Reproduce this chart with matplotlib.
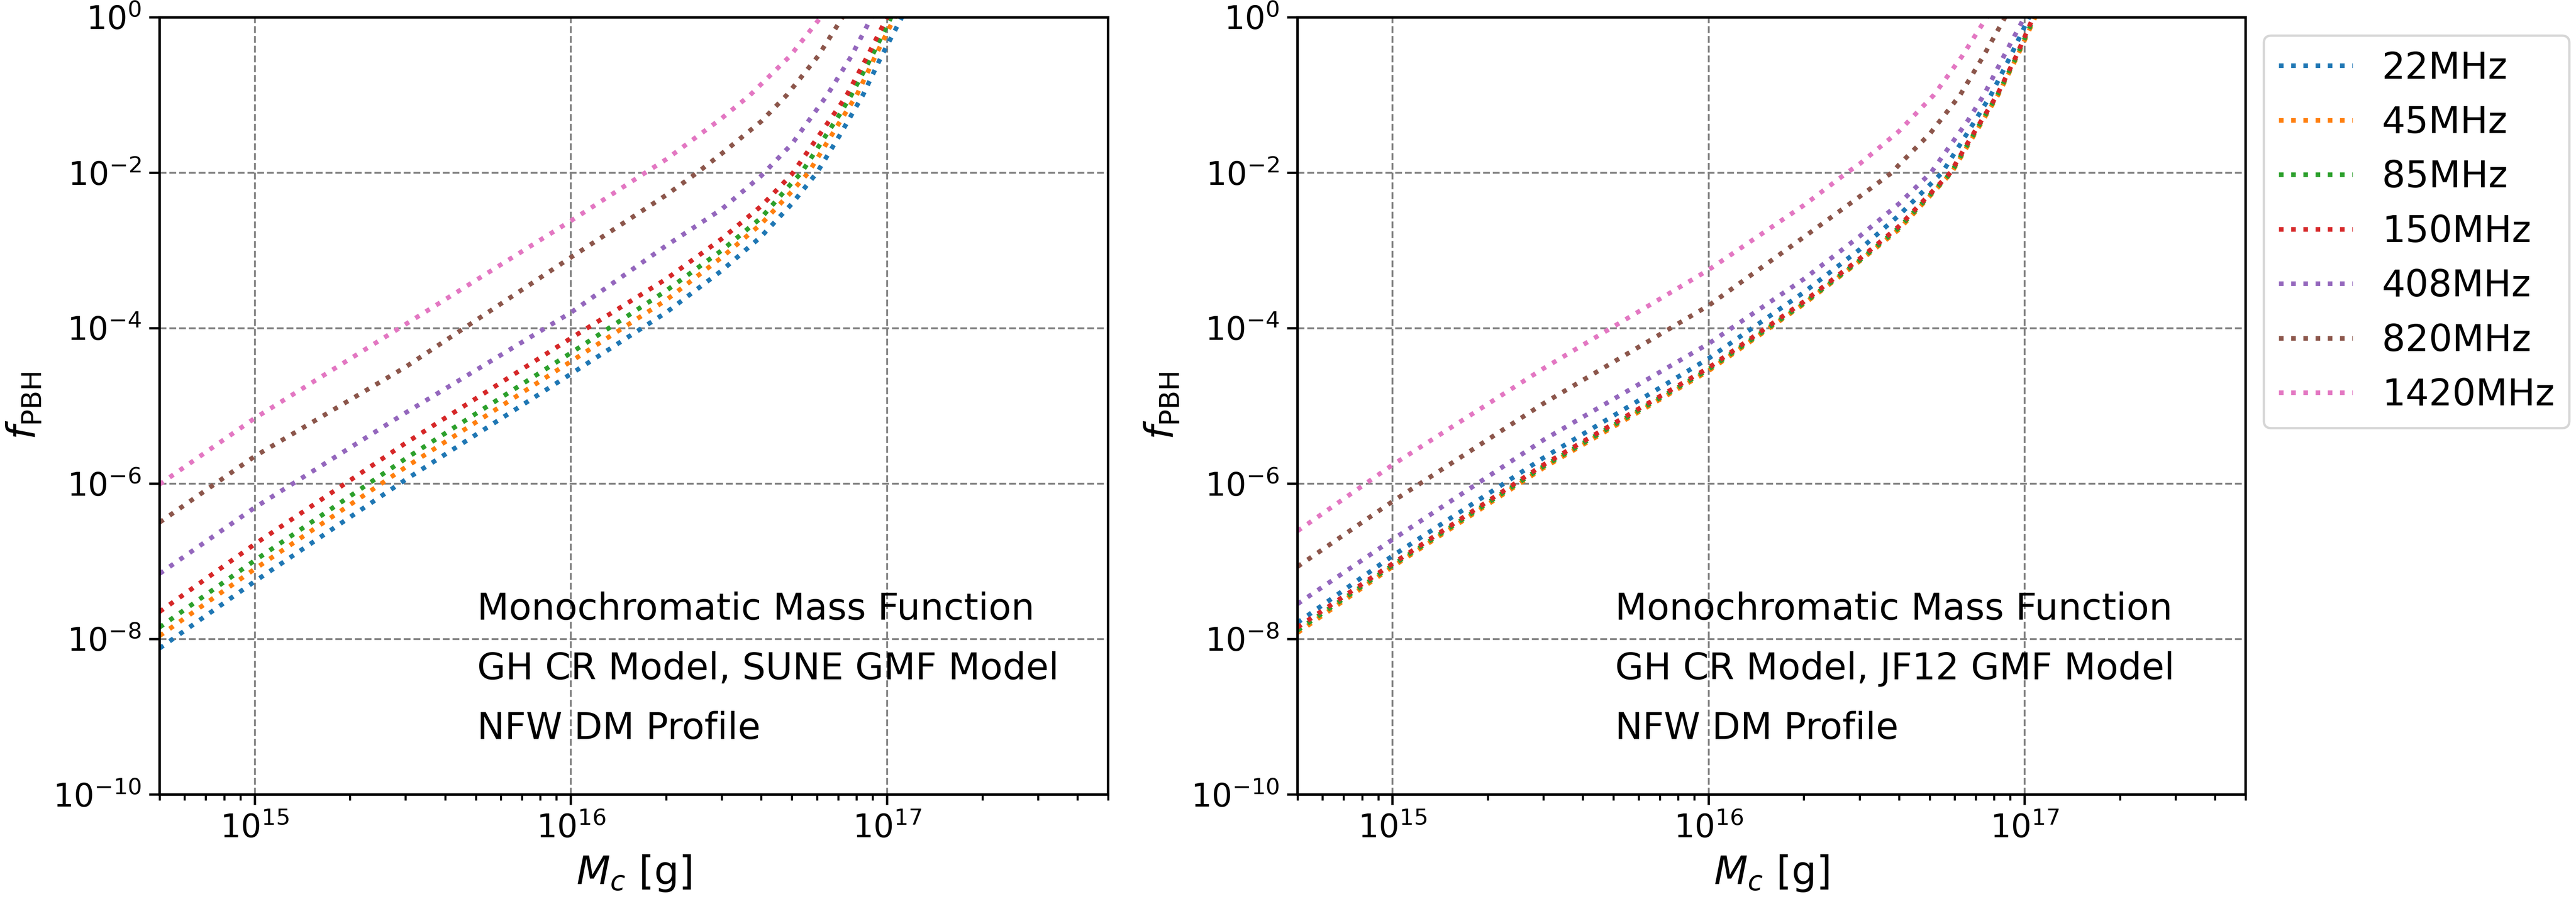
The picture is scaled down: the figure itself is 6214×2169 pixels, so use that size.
import matplotlib
matplotlib.use("Agg")
import matplotlib.pyplot as plt
from matplotlib.ticker import LogLocator, NullLocator, LogFormatterSciNotation

labels = ["22MHz", "45MHz", "85MHz", "150MHz", "408MHz", "820MHz", "1420MHz"]
colors = ["tab:blue", "tab:orange", "tab:green", "tab:red", "tab:purple", "tab:brown", "tab:pink"]

# ---------------- Left panel: GH CR model, SUNE GMF model ----------------
L22_M = [5e14, 1e15, 3e15, 1e16, 2e16, 3e16, 4e16, 5e16, 6.0e16, 7.08e16, 8.39e16, 9.6e16, 1.114e17]
L22_f = [7.59e-9, 5.50e-8, 1.12e-6, 2.57e-5, 1.585e-4, 5.50e-4, 1.51e-3, 3.98e-3, 1.0e-2, 3.02e-2, 0.1, 0.316, 1.0]

L45_M = [5e14, 1e15, 3e15, 1e16, 2e16, 3e16, 4e16, 5e16, 5.64e16, 7.08e16, 8.02e16, 9.18e16, 1.057e17]
L45_f = [1.096e-8, 7.94e-8, 1.62e-6, 3.72e-5, 2.29e-4, 8.13e-4, 2.19e-3, 5.75e-3, 1.0e-2, 4.47e-2, 0.1, 0.316, 1.0]

L85_M = [5e14, 1e15, 3e15, 1e16, 2e16, 3e16, 4e16, 5e16, 5.36e16, 7.08e16, 7.71e16, 8.95e16, 1.03e17]
L85_f = [1.413e-8, 1.023e-7, 2.09e-6, 4.79e-5, 3.02e-4, 1.0e-3, 2.63e-3, 7.41e-3, 1.0e-2, 5.62e-2, 0.1, 0.316, 1.0]

L150_M = [5e14, 1e15, 3e15, 1e16, 2e16, 3e16, 4e16, 5e16, 7.08e16, 7.46e16, 8.67e16, 1.0e17]
L150_f = [2.24e-8, 1.66e-7, 3.31e-6, 7.41e-5, 4.27e-4, 1.41e-3, 3.72e-3, 9.55e-3, 7.24e-2, 0.1, 0.316, 1.0]

L408_M = [5e14, 1e15, 3e15, 1e16, 2e16, 3e16, 4e16, 5e16, 6.47e16, 7.71e16, 8.93e16]
L408_f = [6.92e-8, 4.90e-7, 8.13e-6, 1.585e-4, 1.148e-3, 3.39e-3, 9.12e-3, 2.34e-2, 0.1, 0.316, 1.0]

L820_M = [5e14, 1e15, 3e15, 1e16, 2e16, 2.51e16, 3e16, 4e16, 4.82e16, 6.05e16, 7.23e16]
L820_f = [3.16e-7, 2.24e-6, 3.16e-5, 8.13e-4, 5.13e-3, 1.0e-2, 1.76e-2, 4.57e-2, 0.1, 0.316, 1.0]

L1420_M = [5e14, 1e15, 3e15, 1e16, 1.72e16, 2e16, 3e16, 3.69e16, 4.93e16, 6.17e16]
L1420_f = [9.77e-7, 6.92e-6, 1.12e-4, 2.40e-3, 1.0e-2, 1.48e-2, 5.01e-2, 0.1, 0.316, 1.0]

# ---------------- Right panel: GH CR model, JF12 GMF model ----------------
R22_M = [5e14, 1e15, 3e15, 1e16, 2e16, 3e16, 4e16, 5.48e16, 6.61e16, 7.82e16, 9.02e16, 1.033e17]
R22_f = [1.62e-8, 1.175e-7, 2.14e-6, 4.07e-5, 2.88e-4, 1.02e-3, 2.82e-3, 1.0e-2, 3.31e-2, 0.1, 0.316, 1.0]

R45_M = [5e14, 1e15, 3e15, 1e16, 2e16, 3e16, 4e16, 5.87e16, 6.61e16, 8.24e16, 9.48e16, 1.079e17]
R45_f = [1.20e-8, 8.51e-8, 1.585e-6, 2.82e-5, 2.04e-4, 7.24e-4, 1.86e-3, 1.0e-2, 2.24e-2, 0.1, 0.316, 1.0]

R85_M = [5e14, 1e15, 3e15, 1e16, 2e16, 3e16, 4e16, 5.85e16, 6.61e16, 8.20e16, 9.44e16, 1.072e17]
R85_f = [1.29e-8, 8.91e-8, 1.66e-6, 2.95e-5, 2.09e-4, 7.41e-4, 1.95e-3, 1.0e-2, 2.34e-2, 0.1, 0.316, 1.0]

R150_M = [5e14, 1e15, 3e15, 1e16, 2e16, 3e16, 4e16, 5.82e16, 6.61e16, 8.18e16, 9.40e16, 1.064e17]
R150_f = [1.41e-8, 9.33e-8, 1.74e-6, 3.09e-5, 2.19e-4, 7.76e-4, 2.04e-3, 1.0e-2, 2.43e-2, 0.1, 0.316, 1.0]

R408_M = [5e14, 1e15, 3e15, 1e16, 2e16, 3e16, 4e16, 5.05e16, 6.61e16, 7.43e16, 8.59e16, 9.98e16]
R408_f = [2.82e-8, 1.905e-7, 3.63e-6, 6.31e-5, 4.27e-4, 1.51e-3, 3.98e-3, 1.0e-2, 4.68e-2, 0.1, 0.316, 1.0]

R820_M = [5e14, 1e15, 3e15, 1e16, 2e16, 3e16, 3.80e16, 4e16, 5.01e16, 6.25e16, 7.40e16, 8.67e16]
R820_f = [8.51e-8, 5.89e-7, 1.07e-5, 1.95e-4, 1.48e-3, 4.90e-3, 1.0e-2, 1.26e-2, 3.16e-2, 0.1, 0.316, 1.0]

R1420_M = [5e14, 1e15, 3e15, 1e16, 2e16, 2.74e16, 3e16, 4e16, 5.16e16, 6.34e16, 7.59e16]
R1420_f = [2.45e-7, 1.74e-6, 3.02e-5, 5.62e-4, 3.80e-3, 1.0e-2, 1.29e-2, 3.41e-2, 0.1, 0.316, 1.0]

left_series = [(L22_M, L22_f), (L45_M, L45_f), (L85_M, L85_f), (L150_M, L150_f),
               (L408_M, L408_f), (L820_M, L820_f), (L1420_M, L1420_f)]
right_series = [(R22_M, R22_f), (R45_M, R45_f), (R85_M, R85_f), (R150_M, R150_f),
                (R408_M, R408_f), (R820_M, R820_f), (R1420_M, R1420_f)]

left_text = ["Monochromatic Mass Function", "GH CR Model, SUNE GMF Model", "NFW DM Profile"]
right_text = ["Monochromatic Mass Function", "GH CR Model, JF12 GMF Model", "NFW DM Profile"]

xlim = (5e14, 5e17)
ylim = (1e-10, 1e0)
yticks = [1e-10, 1e-8, 1e-6, 1e-4, 1e-2, 1e0]

W, H = 6214, 2169
fig = plt.figure(figsize=(W / 400, H / 400), dpi=400)
ax1 = fig.add_axes([385 / W, 1 - 1916.5 / H, (2673 - 385) / W, 1875 / H])
ax2 = fig.add_axes([3130 / W, 1 - 1916.5 / H, (5417 - 3130) / W, 1875 / H])


def style(ax, series, texts):
    for (m, f), lab, c in zip(series, labels, colors):
        ax.plot(m, f, linestyle=":", linewidth=2.0, color=c, label=lab)
    ax.set_xscale("log")
    ax.set_yscale("log")
    ax.set_xlim(*xlim)
    ax.set_ylim(*ylim)
    ax.set_yticks(yticks)
    ax.yaxis.set_minor_locator(NullLocator())
    ax.xaxis.set_major_locator(LogLocator(base=10))
    ax.xaxis.set_minor_locator(LogLocator(base=10, subs=range(2, 10)))
    ax.grid(True, which="major", color="gray", linestyle="--", linewidth=0.8)
    ax.tick_params(axis="both", which="major", labelsize=14, length=4.5, width=1.0)
    ax.tick_params(axis="both", which="minor", length=2.5, width=0.9)
    for s in ax.spines.values():
        s.set_linewidth(1.1)
    ax.set_xlabel(r"$M_c$ [g]", fontsize=17)
    ax.set_ylabel(r"$f_{\rm PBH}$", fontsize=17)
    for y, t in zip([0.225, 0.148, 0.071], texts):
        ax.text(0.335, y, t, transform=ax.transAxes, fontsize=16, va="baseline", ha="left")


style(ax1, left_series, left_text)
style(ax2, right_series, right_text)
ax2.legend(loc="upper left", bbox_to_anchor=(1.0, 1.0), fontsize=16)

fig.savefig("out.png", dpi=400)
